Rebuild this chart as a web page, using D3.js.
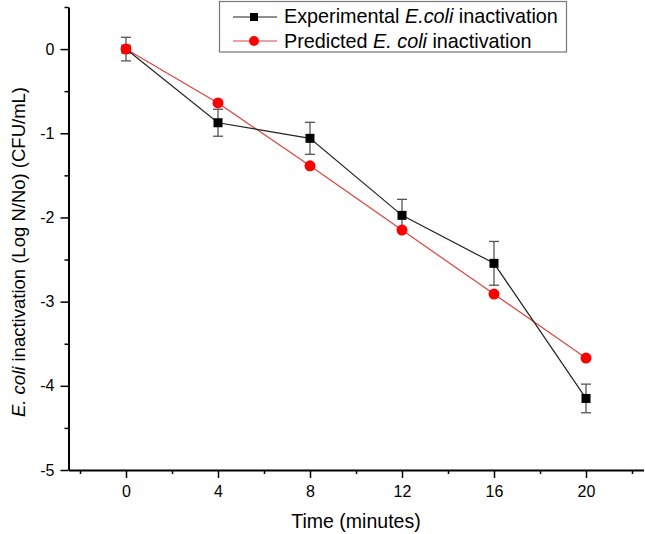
<!DOCTYPE html>
<html>
<head>
<meta charset="utf-8">
<script src="https://cdn.jsdelivr.net/npm/d3@7"></script>
<style>
body { margin: 0; background: #fff; }
svg { display: block; font-family: "Liberation Sans", Arial, sans-serif; }
</style>
</head>
<body>
<div id="chart"></div>
<script>
var width = 645, height = 534;

// data
var times = [0, 4, 8, 12, 16, 20];
var experimental = [0, -0.875, -1.06, -1.975, -2.545, -4.15];
var experimentalErr = [0.14, 0.16, 0.19, 0.19, 0.26, 0.17];
var predicted = [0, -0.64, -1.386, -2.15, -2.91, -3.67];
var xTicks = [0, 4, 8, 12, 16, 20];
var yTicks = [0, -1, -2, -3, -4, -5];

var svg = d3.select("#chart").append("svg")
	.attr("width", width)
	.attr("height", height);

var x = d3.scaleLinear().domain([-2.5, 22.5]).range([68.5, 643.5]);
var y = d3.scaleLinear().domain([-5, 0.5]).range([470, 7]);

// minor ticks
var xMinor = d3.range(-2, 23, 2).filter(function(d){ return xTicks.indexOf(d) < 0; });
var yMinor = d3.range(-4.5, 0.6, 1);

svg.append("g")
	.attr("transform", "translate(0,470)")
	.call(d3.axisBottom(x).tickValues(xMinor).tickSize(4).tickFormat(""))
	.call(function(g){ g.select(".domain").remove(); g.selectAll("line").attr("stroke-width", 1.5); });

svg.append("g")
	.attr("transform", "translate(68.5,0)")
	.call(d3.axisLeft(y).tickValues(yMinor).tickSize(4).tickFormat(""))
	.call(function(g){ g.select(".domain").remove(); g.selectAll("line").attr("stroke-width", 1.5); });

var plain = function(d){ return String(d); };

var xAxis = svg.append("g")
	.attr("transform", "translate(0,470)")
	.call(d3.axisBottom(x).tickValues(xTicks).tickFormat(plain).tickSize(8).tickSizeOuter(0).tickPadding(8));
xAxis.select(".domain").attr("stroke-width", 2);
xAxis.selectAll("line").attr("stroke-width", 1.5);
xAxis.selectAll("text").attr("font-size", 16).attr("fill", "#000").attr("font-family", "Liberation Sans, Arial, sans-serif");

var yAxis = svg.append("g")
	.attr("transform", "translate(68.5,0)")
	.call(d3.axisLeft(y).tickValues(yTicks).tickFormat(plain).tickSize(8).tickSizeOuter(0).tickPadding(6));
yAxis.select(".domain").attr("stroke-width", 2);
yAxis.selectAll("line").attr("stroke-width", 1.5);
yAxis.selectAll("text").attr("font-size", 16).attr("fill", "#000").attr("font-family", "Liberation Sans, Arial, sans-serif");

// axis titles
svg.append("text")
	.attr("x", 356)
	.attr("y", 528)
	.attr("text-anchor", "middle")
	.attr("font-size", 19.5)
	.text("Time (minutes)");

var ylab = svg.append("text")
	.attr("transform", "translate(25,252) rotate(-90)")
	.attr("text-anchor", "middle")
	.attr("font-size", 18.5);
ylab.append("tspan").attr("font-style", "italic").text("E. coli");
ylab.append("tspan").text(" inactivation (Log N/No) (CFU/mL)");

// lines
var line = d3.line()
	.x(function(d){ return x(d[0]); })
	.y(function(d){ return y(d[1]); });

svg.append("path")
	.datum(times.map(function(t, i){ return [t, predicted[i]]; }))
	.attr("d", line)
	.attr("fill", "none")
	.attr("stroke", "#d9453f")
	.attr("stroke-width", 1.2);

svg.append("path")
	.datum(times.map(function(t, i){ return [t, experimental[i]]; }))
	.attr("d", line)
	.attr("fill", "none")
	.attr("stroke", "#222")
	.attr("stroke-width", 1.2);

// error bars
var eb = svg.append("g").attr("stroke", "#555").attr("stroke-width", 1.3);
times.forEach(function(t, i){
	var top = y(experimental[i] + experimentalErr[i]);
	var bot = y(experimental[i] - experimentalErr[i]);
	var cx = x(t);
	eb.append("line").attr("x1", cx).attr("x2", cx).attr("y1", top).attr("y2", bot);
	eb.append("line").attr("x1", cx - 5).attr("x2", cx + 5).attr("y1", top).attr("y2", top);
	eb.append("line").attr("x1", cx - 5).attr("x2", cx + 5).attr("y1", bot).attr("y2", bot);
});

// markers
svg.append("g").selectAll("rect")
	.data(times)
	.join("rect")
	.attr("x", function(d){ return x(d) - 4.5; })
	.attr("y", function(d, i){ return y(experimental[i]) - 4.5; })
	.attr("width", 9)
	.attr("height", 9)
	.attr("fill", "#000");

svg.append("g").selectAll("circle")
	.data(times)
	.join("circle")
	.attr("cx", function(d){ return x(d); })
	.attr("cy", function(d, i){ return y(predicted[i]); })
	.attr("r", 5.5)
	.attr("fill", "#ff0000");

// legend
var lg = svg.append("g");
lg.append("rect")
	.attr("x", 219.5).attr("y", 1.5)
	.attr("width", 347).attr("height", 50.5)
	.attr("fill", "#fff")
	.attr("stroke", "#777")
	.attr("stroke-width", 1.2);

lg.append("line").attr("x1", 233).attr("x2", 277).attr("y1", 17).attr("y2", 17).attr("stroke", "#222").attr("stroke-width", 1.2);
lg.append("rect").attr("x", 250).attr("y", 13).attr("width", 8).attr("height", 8).attr("fill", "#000");
lg.append("line").attr("x1", 233).attr("x2", 277).attr("y1", 41).attr("y2", 41).attr("stroke", "#d9453f").attr("stroke-width", 1.2);
lg.append("circle").attr("cx", 254).attr("cy", 41).attr("r", 5).attr("fill", "#ff0000");

var t1 = lg.append("text").attr("x", 284).attr("y", 23).attr("font-size", 19.8);
t1.append("tspan").text("Experimental ");
t1.append("tspan").attr("font-style", "italic").text("E.coli");
t1.append("tspan").text(" inactivation");

var t2 = lg.append("text").attr("x", 284).attr("y", 48).attr("font-size", 19.8);
t2.append("tspan").text("Predicted ");
t2.append("tspan").attr("font-style", "italic").text("E. coli");
t2.append("tspan").text(" inactivation");
</script>
</body>
</html>
